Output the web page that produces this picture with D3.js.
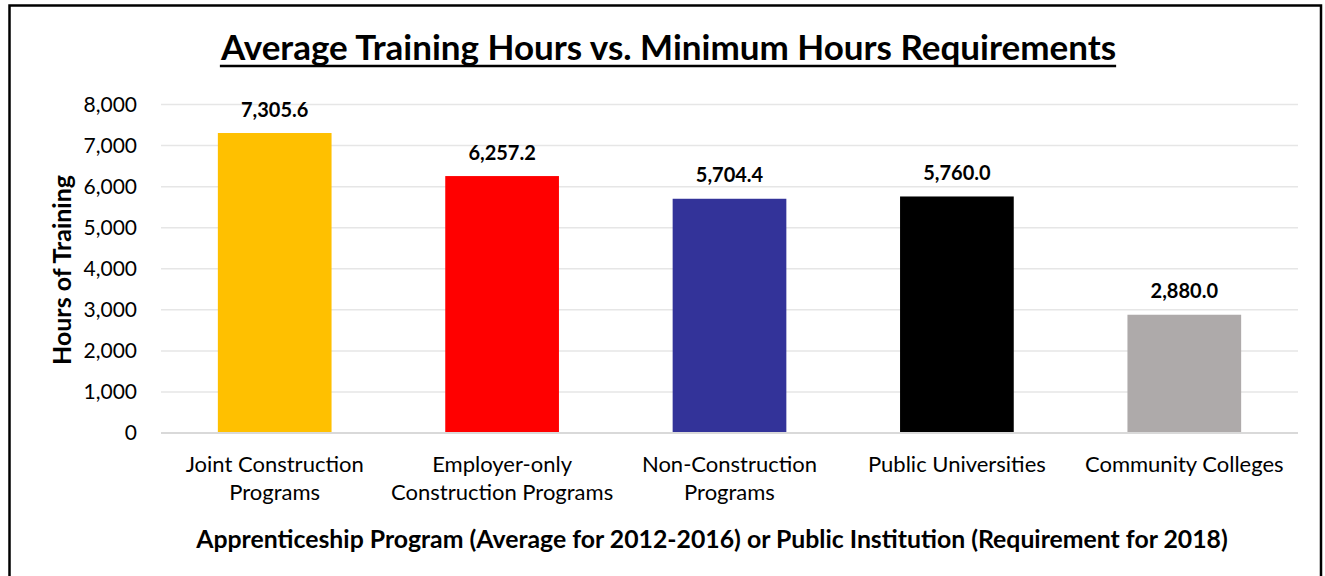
<!DOCTYPE html>
<html>
<head>
<meta charset="utf-8">
<script src="https://cdn.jsdelivr.net/npm/d3@7"></script>
<style>
  body { margin: 0; background: #fff; }
  svg { display: block; font-family: Lato, 'Open Sans', sans-serif; }
</style>
</head>
<body>
<svg id="chart"></svg>
<script>
// Data
const categories = [
  ['Joint Construction', 'Programs'],
  ['Employer-only', 'Construction Programs'],
  ['Non-Construction', 'Programs'],
  ['Public Universities'],
  ['Community Colleges']
];
const hours = [7305.6, 6257.2, 5704.4, 5760.0, 2880.0];
const barColors = ['#FFC000', '#FF0000', '#333399', '#000000', '#AEAAAA'];
const yTicks = [0, 1000, 2000, 3000, 4000, 5000, 6000, 7000, 8000];

const W = 1325, H = 576;
const margin = { top: 104.5, right: 27, bottom: 143, left: 161 };
const width = W - margin.left - margin.right;
const height = H - margin.top - margin.bottom;

const root = d3.select('#chart').attr('width', W).attr('height', H);

// Outer frame
root.append('path')
  .attr('d', `M9.5,${H + 5} L9.5,5.5 L1321,5.5 L1321,${H + 5}`)
  .attr('fill', 'none')
  .attr('stroke', '#000')
  .attr('stroke-width', 2.5);

const svg = root.append('g')
  .attr('transform', `translate(${margin.left},${margin.top})`);

const x = d3.scaleBand()
  .domain(d3.range(categories.length))
  .range([0, width])
  .paddingInner(0.5)
  .paddingOuter(0.25);

const y = d3.scaleLinear().domain([0, 8000]).range([height, 0]);

// Gridlines
svg.selectAll('.grid')
  .data(yTicks.slice(1))
  .enter()
  .append('line')
  .attr('x1', 0)
  .attr('x2', width)
  .attr('y1', (d) => y(d))
  .attr('y2', (d) => y(d))
  .attr('stroke', '#e6e6e6')
  .attr('stroke-width', 1.5);

// Y tick labels
svg.selectAll('.ytick')
  .data(yTicks)
  .enter()
  .append('text')
  .attr('x', -24)
  .attr('y', (d) => y(d))
  .attr('dy', '0.35em')
  .attr('text-anchor', 'end')
  .attr('font-size', '21px')
  .attr('fill', '#000')
  .text((d) => d3.format(',')(d));

// Bars
svg.selectAll('.bar')
  .data(hours)
  .enter()
  .append('rect')
  .attr('x', (d, i) => x(i))
  .attr('y', (d) => y(d))
  .attr('width', x.bandwidth())
  .attr('height', (d) => height - y(d))
  .attr('fill', (d, i) => barColors[i]);

// Baseline
svg.append('line')
  .attr('x1', 0)
  .attr('x2', width)
  .attr('y1', height)
  .attr('y2', height)
  .attr('stroke', '#d9d9d9')
  .attr('stroke-width', 2);

// Value labels
svg.selectAll('.val')
  .data(hours)
  .enter()
  .append('text')
  .attr('x', (d, i) => x(i) + x.bandwidth() / 2)
  .attr('y', (d) => y(d) - 16.5)
  .attr('text-anchor', 'middle')
  .attr('font-size', '20px')
  .attr('font-weight', 'bold')
  .attr('fill', '#000')
  .text((d) => d3.format(',.1f')(d));

// Category labels
svg.selectAll('.cat')
  .data(categories)
  .enter()
  .append('text')
  .attr('x', (d, i) => x(i) + x.bandwidth() / 2)
  .attr('y', height + 38.5)
  .attr('text-anchor', 'middle')
  .attr('font-size', '22px')
  .attr('fill', '#000')
  .each(function (d) {
    const t = d3.select(this);
    d.forEach((line, j) => {
      t.append('tspan')
        .attr('x', t.attr('x'))
        .attr('dy', j === 0 ? 0 : 28.5)
        .text(line);
    });
  });

// Title, with a drawn underline sitting a bit lower than the font's own
const title = root.append('text')
  .attr('x', 668.5)
  .attr('y', 60)
  .attr('text-anchor', 'middle')
  .attr('font-size', '35px')
  .attr('font-weight', 'bold')
  .attr('fill', '#000')
  .text('Average Training Hours vs. Minimum Hours Requirements');

const tb = title.node().getBBox();
root.append('line')
  .attr('x1', tb.x)
  .attr('x2', tb.x + tb.width)
  .attr('y1', 66)
  .attr('y2', 66)
  .attr('stroke', '#000')
  .attr('stroke-width', 2.5);

// Y axis title
root.append('text')
  .attr('transform', 'translate(71,270) rotate(-90)')
  .attr('text-anchor', 'middle')
  .attr('font-size', '25px')
  .attr('font-weight', 'bold')
  .attr('fill', '#000')
  .text('Hours of Training');

// X axis title
root.append('text')
  .attr('x', 712)
  .attr('y', 547.5)
  .attr('text-anchor', 'middle')
  .attr('font-size', '24.8px')
  .attr('font-weight', 'bold')
  .attr('fill', '#000')
  .text('Apprenticeship Program (Average for 2012-2016) or Public Institution (Requirement for 2018)');
</script>
</body>
</html>
